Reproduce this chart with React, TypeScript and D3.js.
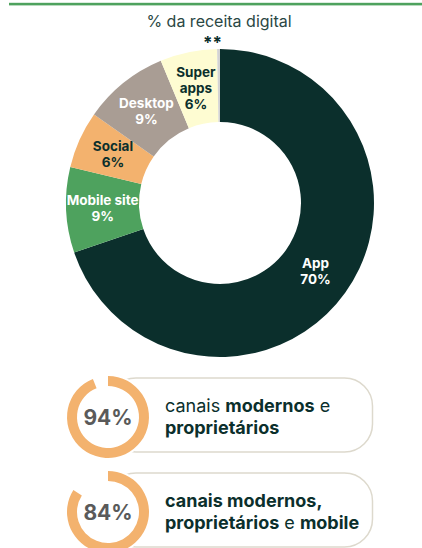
import * as d3 from 'd3';

// donut data (share of digital revenue, clockwise from 12 o'clock)
const segLabels = ['App', 'Mobile site', 'Social', 'Desktop', 'Super\napps', '**'];
const segValues = [70, 9, 6, 9, 6, 0.3];
const segColors = ['#0b2f2c', '#4ea25e', '#f3b26e', '#a99d94', '#fefcd2', '#d3d3d3'];
const segText = ['#ffffff', '#ffffff', '#0b2f2c', '#ffffff', '#0b2f2c', '#0b2f2c'];

// summary rings
const ringValues = [94, 84];
const ringLines: [string, boolean][][][] = [
  [[['canais ', false], ['modernos', true], [' e', false]], [['proprietários', true]]],
  [[['canais modernos,', true]], [['proprietários', true], [' e ', false], ['mobile', true]]],
];

const W = 422, H = 548;
const FONT = 'Inter, "Noto Sans", sans-serif';
const DARK = '#0b2f2c';

export default function App() {
  const cx = 220, cy = 203;
  const rIn = 81, rOut = 154;

  const pie = d3.pie<number>().sort(null).value(d => d);
  const arcs = pie(segValues);
  const arc = d3.arc<d3.PieArcDatum<number>>().innerRadius(rIn).outerRadius(rOut);
  const outerArc = d3.arc<d3.PieArcDatum<number>>().innerRadius(rOut + 7).outerRadius(rOut + 7);

  const ringArc = d3.arc<number>()
    .innerRadius(31).outerRadius(41)
    .startAngle(0).endAngle(v => (v / 100) * 2 * Math.PI);

  const boxTop = [378, 473];
  const boxH = 74;

  return (
    <svg width={W} height={H} style={{ position: 'absolute', left: 0, top: 0 }} fontFamily={FONT}>
      <rect x={9} y={2.8} width={W - 9} height={2.6} fill="#4ea25e" />
      <text x={219} y={27} textAnchor="middle" fontSize={16} fill="#2a4744">% da receita digital</text>

      {/* Donut */}
      <g transform={`translate(${cx},${cy})`}>
        {arcs.map((a, i) => (
          <path key={i} d={arc(a) || ''} fill={segColors[i]} />
        ))}
        {arcs.map((a, i) => {
          if (segLabels[i] === '**') {
            const [x, y] = outerArc.centroid(a);
            return (
              <text key={i} x={x - 6} y={y + 7} textAnchor="middle" fontSize={17}
                fontWeight={700} fill={segText[i]}>**</text>
            );
          }
          const [x, y] = arc.centroid(a);
          const lines = [...segLabels[i].split('\n'), `${segValues[i]}%`];
          const lh = 16;
          const y0 = y - ((lines.length - 1) * lh) / 2 + 4.8;
          return (
            <text key={i} textAnchor="middle" fontSize={13.5} fontWeight={700} fill={segText[i]}>
              {lines.map((l, j) => (
                <tspan key={j} x={x} y={y0 + j * lh}>{l}</tspan>
              ))}
            </text>
          );
        })}
      </g>

      {/* Summary pills */}
      {ringValues.map((v, i) => {
        const top = boxTop[i];
        const rcx = 108, rcy = top + 39;
        return (
          <g key={i}>
            <rect x={rcx} y={top} width={372.5 - rcx} height={boxH} rx={28}
              fill="#ffffff" stroke="#ddd9cd" strokeWidth={1.5} />
            <circle cx={rcx} cy={rcy} r={43} fill="#ffffff" />
            <path d={ringArc(v) || ''} transform={`translate(${rcx},${rcy})`} fill="#f3b26e" />
            <text x={rcx} y={rcy + 8} textAnchor="middle" fontSize={21} fontWeight={700}
              fill="#5a5a5a">{v}%</text>
            <text fontSize={18} fill={DARK}>
              {ringLines[i].map((line, j) => (
                <tspan key={j} x={165} y={top + 34 + j * 21.5}>
                  {line.map(([t, b], k) => (
                    <tspan key={k} fontWeight={b ? 700 : 400}>{t}</tspan>
                  ))}
                </tspan>
              ))}
            </text>
          </g>
        );
      })}
    </svg>
  );
}
